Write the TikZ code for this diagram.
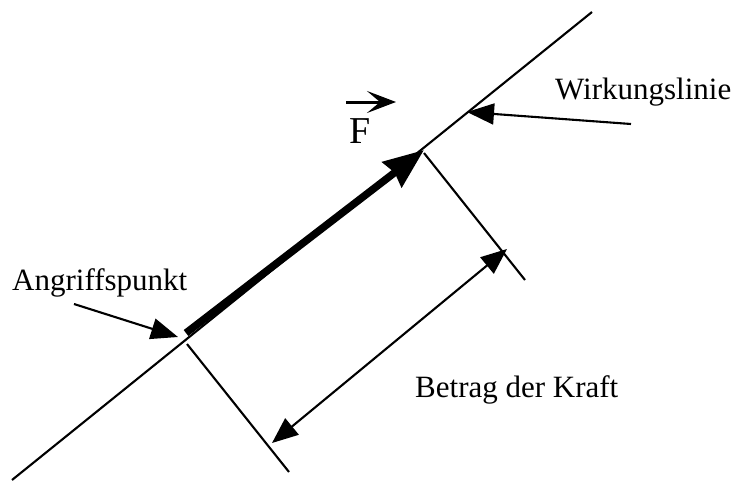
\documentclass[tikz,border=0pt]{standalone}
\usepackage{fontspec}
\setmainfont{Liberation Serif}
\usetikzlibrary{arrows.meta}
\begin{document}
\begin{tikzpicture}[x=1pt,y=-1pt,
  thinline/.style={line width=2.1pt},
  lbl/.style={font=\fontsize{31}{36}\selectfont, inner sep=0pt, anchor=base west},
  headtip/.style={-{Triangle[length=27pt,width=21pt]}}]
\useasboundingbox (0,0) rectangle (734,482);
% line of action
\coordinate (L0) at (12,480);
\coordinate (L1) at (592,12);
\draw[thinline] (L0) -- (L1);
% force vector
\coordinate (F0) at (186,333);
\coordinate (F1) at (424,150);
\draw[line width=7.5pt, -{Stealth[length=40pt,width=31pt,inset=3pt]}] (F0) -- (F1);
% perpendicular extension lines
\coordinate (P0) at (187,344);
\coordinate (P1) at (289,472);
\coordinate (Q0) at (424,153);
\coordinate (Q1) at (525,280);
\draw[thinline] (P0) -- (P1);
\draw[thinline] (Q0) -- (Q1);
% dimension arrow
\coordinate (D0) at (272,443);
\coordinate (D1) at (507,249);
\draw[thinline, {Triangle[length=26pt,width=21pt]}-{Triangle[length=26pt,width=21pt]}] (D0) -- (D1);
% labels
\node[lbl] (ang) at (12,290) {Angriffspunkt};
\node[lbl] (wir) at (555,99) {Wirkungslinie};
\node[lbl] (bet) at (415,397) {Betrag der Kraft};
\node[lbl, font=\fontsize{38}{44}\selectfont] (F) at (349,143) {F};
% pointer arrows
\coordinate (A0) at (74,304);
\coordinate (A1) at (178,337);
\draw[thinline, headtip] (A0) -- (A1);
\coordinate (W0) at (631,124);
\coordinate (W1) at (467,112);
\draw[thinline, headtip] (W0) -- (W1);
% vector arrow above F
\coordinate (V0) at (346,102);
\coordinate (V1) at (396,102);
\draw[line width=3pt, -{Stealth[length=29pt,width=22pt,inset=13pt]}] (V0) -- (V1);
\end{tikzpicture}
\end{document}
